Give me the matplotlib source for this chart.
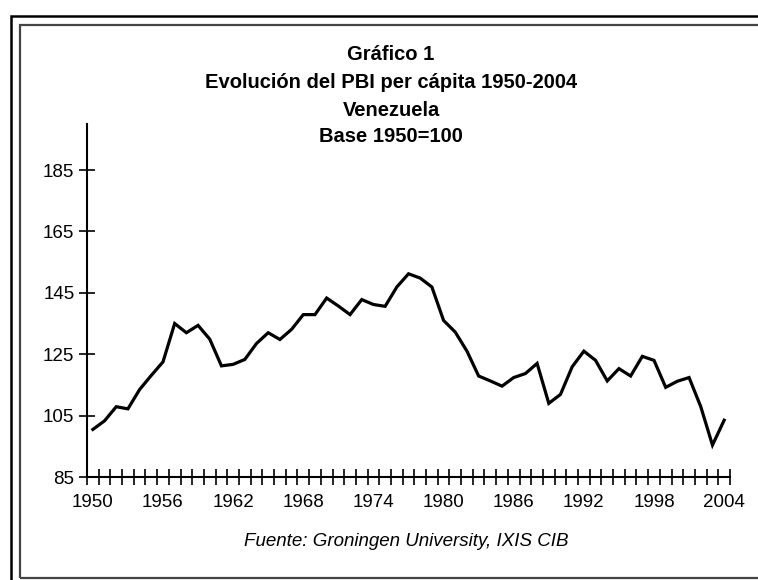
import matplotlib
matplotlib.use('Agg')
import matplotlib.pyplot as plt
from matplotlib.patches import Rectangle
import numpy as np

years = list(range(1950, 2005))
pbi = [100.5, 103.3, 107.9, 107.2, 113.5, 118.1, 122.5, 135.0, 132.0, 134.4,
       129.9, 121.2, 121.7, 123.3, 128.5, 132.0, 129.8, 133.1, 137.9, 137.9,
       143.3, 140.7, 137.9, 142.8, 141.2, 140.6, 146.9, 151.2, 149.8, 146.9,
       136.0, 132.2, 126.0, 117.9, 116.3, 114.6, 117.4, 118.7, 122.0, 109.0,
       111.9, 120.9, 126.0, 123.0, 116.3, 120.3, 117.9, 124.3, 123.0, 114.2,
       116.2, 117.4, 107.9, 95.4, 103.5]
xlabels = [1950, 1956, 1962, 1968, 1974, 1980, 1986, 1992, 1998, 2004]
ylabels = [85, 105, 125, 145, 165, 185]

title_lines = ['Gráfico 1', 'Evolución del PBI per cápita 1950-2004',
               'Venezuela', 'Base 1950=100']
fuente = 'Fuente: Groningen University, IXIS CIB'

plt.rcParams['font.family'] = ['Liberation Sans', 'DejaVu Sans']

W, H = 758, 580
fig = plt.figure(figsize=(W/100, H/100), dpi=100)

# marcos
fig.patches.append(Rectangle((11/W, -0.1), 1.2, 1 - 16/H + 0.1, transform=fig.transFigure,
                             fill=False, edgecolor='black', linewidth=1.8))
fig.patches.append(Rectangle((20/W, 2/H), 1.2, 1 - 25/H - 2/H, transform=fig.transFigure,
                             fill=False, edgecolor='#444444', linewidth=1.6))

ax = fig.add_axes([87/W, 1 - 477/H, 643/W, 353/H])
ax.plot(years, pbi, color='black', linewidth=2.3, solid_joinstyle='miter')

ax.set_xlim(1949.5, 2004.5)
ax.set_ylim(85, 200)
ax.set_xticks(xlabels)
ax.set_xticklabels([str(y) for y in xlabels])
ax.set_xticks(np.arange(1949.5, 2005, 1), minor=True)
ax.tick_params(axis='x', which='major', length=0, pad=12, labelsize=13.5)
ax.tick_params(axis='x', which='minor', direction='inout', length=11, width=1.2)
ax.set_yticks(ylabels)
ax.tick_params(axis='y', direction='inout', length=12, width=1.2, pad=3, labelsize=13.5)

for s in ['top', 'right']:
    ax.spines[s].set_visible(False)
for s in ['left', 'bottom']:
    ax.spines[s].set_linewidth(1.5)

ys = [55, 82.5, 110, 137]
for t, y in zip(title_lines, ys):
    fig.text(391/W, 1 - y/H, t, ha='center', va='center', fontsize=14.5, fontweight='bold')

fig.text(406/W, 1 - 542/H, fuente, ha='center', va='center', fontsize=13.5, style='italic')

fig.savefig('out.png', dpi=100)
